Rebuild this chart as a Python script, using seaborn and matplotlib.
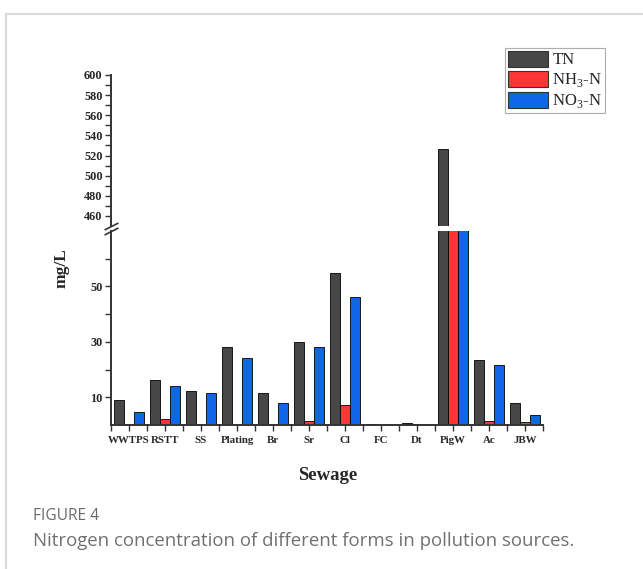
import pandas as pd
import matplotlib.pyplot as plt
import seaborn as sns
from matplotlib.patches import Patch, Rectangle
from matplotlib.ticker import MultipleLocator, FuncFormatter, FixedLocator

# data (mg/L)
sources = ['WWTPS', 'RSTT', 'SS', 'Plating', 'Br', 'Sr', 'Cl', 'FC', 'Dt', 'PigW', 'Ac', 'JBW']
tn = [9.0, 16.4, 12.3, 28.2, 11.4, 30.0, 54.7, 0.4, 0.6, 526.0, 23.5, 8.0]
nh3 = [0.0, 2.0, 0.0, 0.0, 0.0, 1.3, 7.2, 0.0, 0.2, 160.0, 1.6, 1.1]
no3 = [4.7, 13.9, 11.6, 24.1, 8.0, 28.3, 46.2, 0.0, 0.0, 210.0, 21.5, 3.6]
forms = ['TN', 'NH$_3$-N', 'NO$_3$-N']
colors = ['#474747', '#ff3535', '#1166e8']

df = pd.DataFrame({'Sewage': sources * 3,
                   'form': [f for f in forms for _ in sources],
                   'value': tn + nh3 + no3})

sns.set_theme(style='white')
plt.rcParams['font.family'] = ['Liberation Serif', 'DejaVu Serif']
plt.rcParams['mathtext.fontset'] = 'custom'
plt.rcParams['mathtext.rm'] = 'Liberation Serif'

fig = plt.figure(figsize=(6.43, 5.69), dpi=100)
W, H = 643, 569
left, right = 111 / W, 543 / W
ax_top = fig.add_axes([left, 1 - 226 / H, right - left, (226 - 75) / H])
ax_bot = fig.add_axes([left, 1 - 425 / H, right - left, (425 - 231) / H])

for ax in (ax_top, ax_bot):
    sns.barplot(data=df, x='Sewage', y='value', hue='form', palette=colors,
                width=0.84, edgecolor='black', linewidth=0.6, saturation=1,
                legend=False, ax=ax)
    ax.set_xlim(-0.5, 11.5)
    ax.set_ylabel('')
    ax.set_xlabel('')
    for s in ['top', 'right']:
        ax.spines[s].set_visible(False)
    ax.spines['left'].set_linewidth(1.4)
    ax.spines['left'].set_color('#333333')
    ax.tick_params(axis='y', direction='out', length=4, width=1, color='#333333',
                   left=True, pad=2, labelsize=8.8)

ax_top.set_ylim(450, 600)
ax_top.yaxis.set_major_locator(FixedLocator(range(460, 601, 10)))
ax_top.yaxis.set_major_formatter(FuncFormatter(lambda v, p: f'{v:.0f}' if round(v) % 20 == 0 else ''))
ax_top.spines['bottom'].set_visible(False)
ax_top.tick_params(axis='x', bottom=False, labelbottom=False)

ax_bot.set_ylim(0, 70)
ax_bot.yaxis.set_major_locator(FixedLocator(range(10, 61, 10)))
ax_bot.yaxis.set_major_formatter(FuncFormatter(lambda v, p: f'{v:.0f}' if round(v) % 20 == 10 else ''))
ax_bot.spines['bottom'].set_linewidth(1.4)
ax_bot.spines['bottom'].set_color('#333333')
ax_bot.xaxis.set_minor_locator(MultipleLocator(1, offset=0.5))
ax_bot.tick_params(axis='x', which='both', direction='out', length=4, width=1,
                   color='#333333', bottom=True, labelsize=7.8, pad=4)
for lab in ax_bot.get_xticklabels() + ax_bot.get_yticklabels() + ax_top.get_yticklabels():
    lab.set_fontweight('bold')

# break marks on the y axis
kw = dict(marker=[(-1, -0.5), (1, 0.5)], markersize=10, linestyle='none',
          color='#333333', mec='#333333', mew=1.2, clip_on=False)
ax_top.plot([0], [0], transform=ax_top.transAxes, **kw)
ax_bot.plot([0], [1], transform=ax_bot.transAxes, **kw)

handles = [Patch(facecolor=c, edgecolor='#333333', linewidth=0.8) for c in colors]
leg = ax_top.legend(handles, forms, loc='upper left', bbox_to_anchor=(505 / W, 1 - 48 / H),
                    bbox_transform=fig.transFigure, fontsize=12, frameon=True, fancybox=False,
                    handlelength=2.4, handleheight=1.1, labelspacing=0.15, handletextpad=0.3,
                    borderpad=0.15, borderaxespad=0)
leg.get_frame().set_edgecolor('#999999')
leg.get_frame().set_linewidth(0.8)

fig.text(62 / W, 1 - 268 / H, 'mg/L', rotation=90, ha='center', va='center',
         fontsize=12.5, fontweight='bold')
fig.text(328 / W, 1 - 476 / H, 'Sewage', ha='center', va='center',
         fontsize=13.5, fontweight='bold')

fig.text(33 / W, 1 - 516 / H, 'FIGURE 4', ha='left', va='center', fontsize=11.2,
         color='#6a6a6a', family=['Open Sans', 'DejaVu Sans'])
fig.text(33 / W, 1 - 541 / H, 'Nitrogen concentration of different forms in pollution sources.',
         ha='left', va='center', fontsize=13.4, color='#707070',
         family=['Open Sans', 'DejaVu Sans'])

fig.patches.append(Rectangle((6 / W, -0.1), 1.2, 1 - 14 / H + 0.1, transform=fig.transFigure,
                             fill=False, edgecolor='#dadada', linewidth=1.5))

fig.savefig('out.png', dpi=100)
